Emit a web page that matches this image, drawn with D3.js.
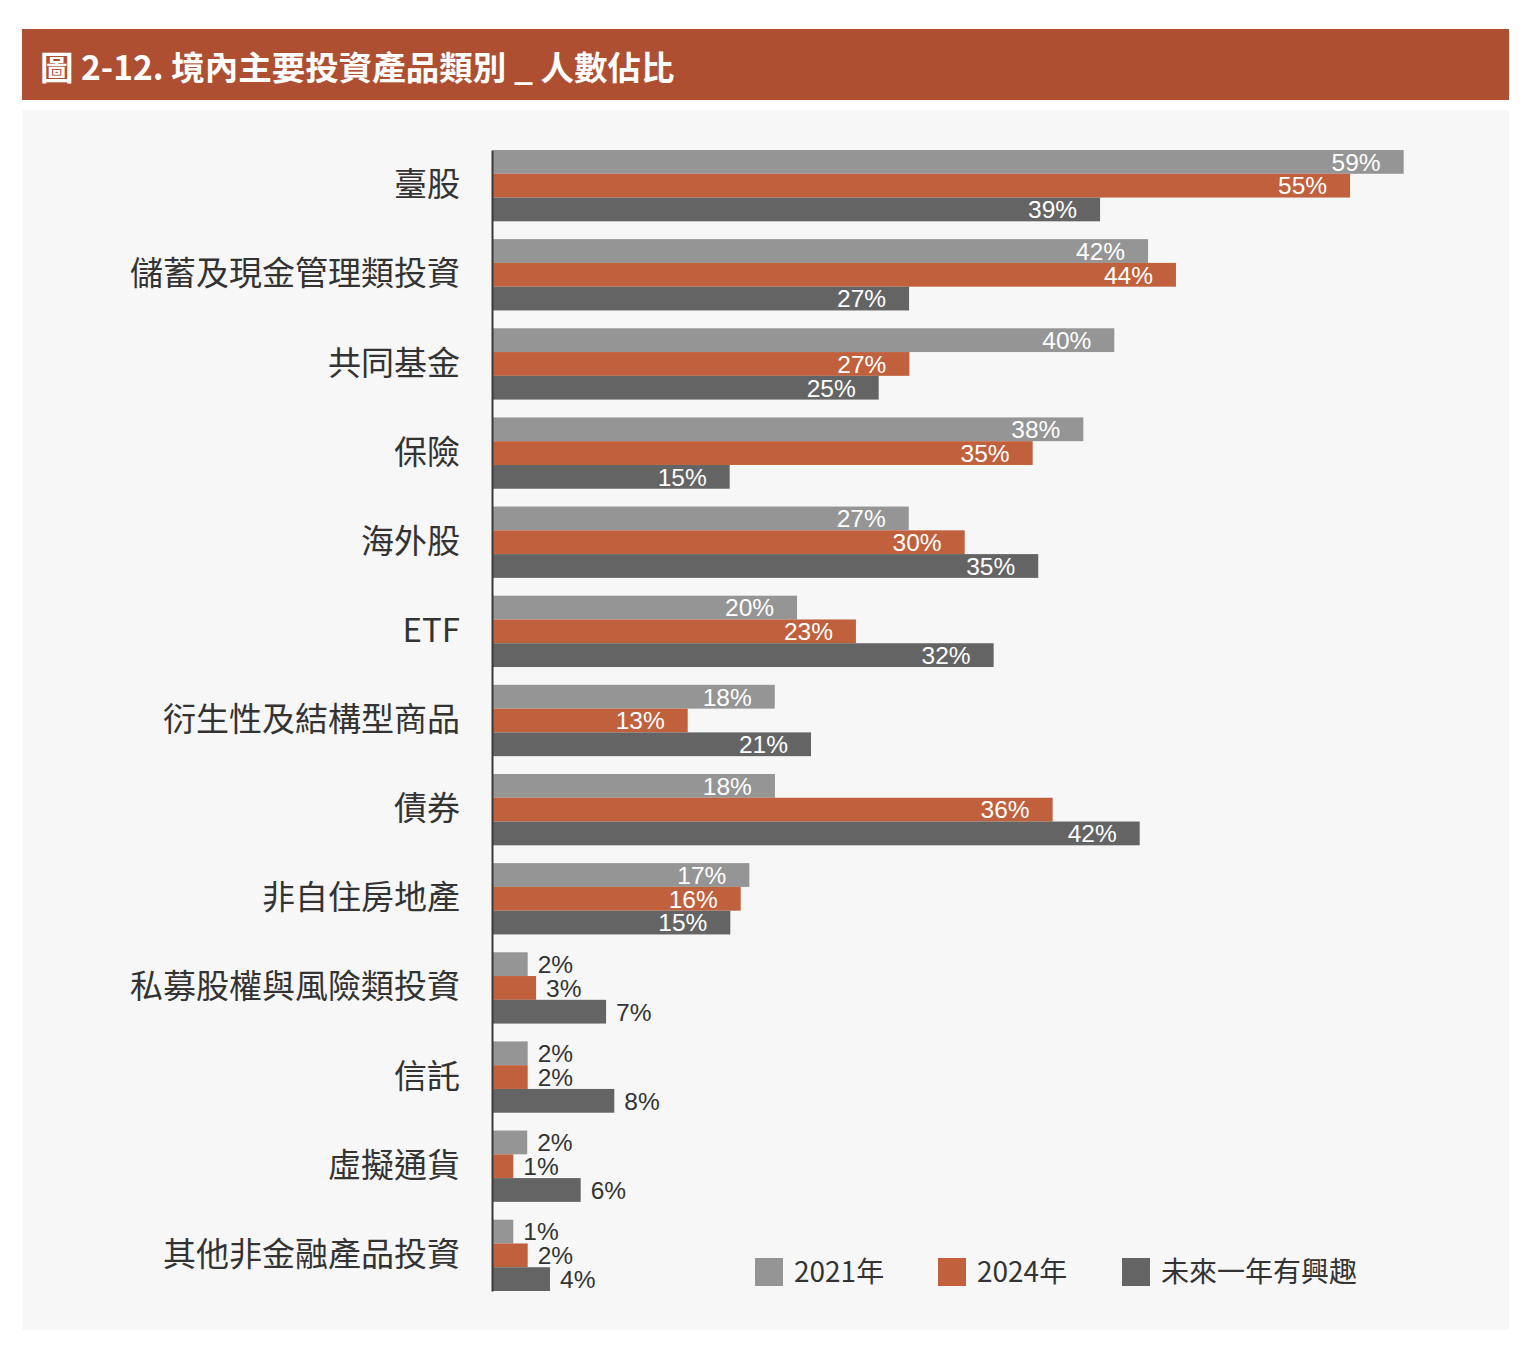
<!DOCTYPE html>
<html>
<head>
<meta charset="utf-8">
<script src="https://cdn.jsdelivr.net/npm/d3@7"></script>
<style>
  html, body { margin: 0; padding: 0; background: #ffffff; }
  svg { display: block; }
</style>
</head>
<body>
<svg id="chart" width="1540" height="1356"></svg>
<script>
// ---- data ----
const titleText = "圖 2-12. 境內主要投資產品類別 _ 人數佔比";
const categories = ["臺股", "儲蓄及現金管理類投資", "共同基金", "保險", "海外股", "ETF",
  "衍生性及結構型商品", "債券", "非自住房地產", "私募股權與風險類投資", "信託", "虛擬通貨", "其他非金融產品投資"];
const seriesNames = ["2021年", "2024年", "未來一年有興趣"];
const values2021 = [58.79, 42.29, 40.11, 38.11, 26.84, 19.63, 18.19, 18.20, 16.55, 2.24, 2.24, 2.21, 1.31];
const values2024 = [55.33, 44.09, 26.88, 34.84, 30.45, 23.43, 12.57, 36.13, 15.99, 2.78, 2.24, 1.31, 2.24];
const valuesFuture = [39.19, 26.86, 24.90, 15.28, 35.20, 32.32, 20.53, 41.75, 15.32, 7.30, 7.83, 5.66, 3.68];
const seriesColors = ["#959595", "#C0603C", "#646464"];

const seriesValues = [values2021, values2024, valuesFuture];
const rows = categories.map((c, i) => ({
  cat: c,
  vals: seriesNames.map((s, j) => ({ cat: c, series: s, si: j, v: seriesValues[j][i] }))
}));

const svg = d3.select("#chart");
const cjk = "'Noto Sans CJK TC', 'Noto Sans CJK SC', 'Noto Sans', sans-serif";
const latin = "'Liberation Sans', Arial, 'Noto Sans CJK TC', sans-serif";

// title bar
svg.append("rect").attr("x", 22).attr("y", 29).attr("width", 1487).attr("height", 71).attr("fill", "#AE4F31");
svg.append("text").attr("x", 40).attr("y", 65)
  .attr("dominant-baseline", "central")
  .attr("fill", "#ffffff").attr("font-family", cjk).attr("font-weight", 700).attr("font-size", 33.5)
  .text(titleText);

// panel
svg.append("rect").attr("x", 22).attr("y", 110).attr("width", 1487).attr("height", 1220).attr("fill", "#F6F7F6");

// scales
const x = d3.scaleLinear().domain([0, 60]).range([493, 493 + 60 * 15.49]);
const y0 = d3.scaleBand().domain(categories).range([150, 1291]).paddingInner(0.2).paddingOuter(0);
const y1 = d3.scaleBand().domain(seriesNames).range([0, y0.bandwidth()]).padding(0);
const color = d3.scaleOrdinal().domain(seriesNames).range(seriesColors);

// bars
const groups = svg.append("g").selectAll("g").data(rows).join("g")
  .attr("transform", d => `translate(0,${y0(d.cat)})`);

groups.selectAll("rect").data(d => d.vals).join("rect")
  .attr("x", x(0))
  .attr("y", d => y1(d.series))
  .attr("width", d => x(d.v) - x(0))
  .attr("height", y1.bandwidth())
  .attr("fill", d => color(d.series));

groups.selectAll("text").data(d => d.vals).join("text")
  .attr("x", d => d.v >= 10 ? x(d.v) - 23 : x(d.v) + 10)
  .attr("y", d => y1(d.series) + y1.bandwidth() / 2)
  .attr("dy", "0.36em")
  .attr("text-anchor", d => d.v >= 10 ? "end" : "start")
  .attr("fill", d => d.v >= 10 ? "#ffffff" : "#333333")
  .attr("font-family", latin)
  .attr("font-size", 24.5)
  .text(d => Math.round(d.v) + "%");

// category axis
const axis = svg.append("g").attr("transform", "translate(492,0)")
  .call(d3.axisLeft(y0).tickSize(0).tickSizeOuter(0).tickPadding(32));
axis.select(".domain").attr("stroke", "#3a3a3a").attr("stroke-width", 2);
axis.selectAll(".tick text")
  .attr("font-family", cjk).attr("font-size", 33).attr("fill", "#333333");

// legend
const legendX = [755, 938, 1122];
const legend = svg.append("g").selectAll("g").data(seriesNames).join("g")
  .attr("transform", (d, i) => `translate(${legendX[i]},1258)`);
legend.append("rect").attr("width", 28).attr("height", 28).attr("fill", d => color(d));
legend.append("text").attr("x", 39).attr("y", 14).attr("dy", "0.36em")
  .attr("font-family", cjk).attr("font-size", 28).attr("fill", "#333333")
  .text(d => d);
</script>
</body>
</html>
